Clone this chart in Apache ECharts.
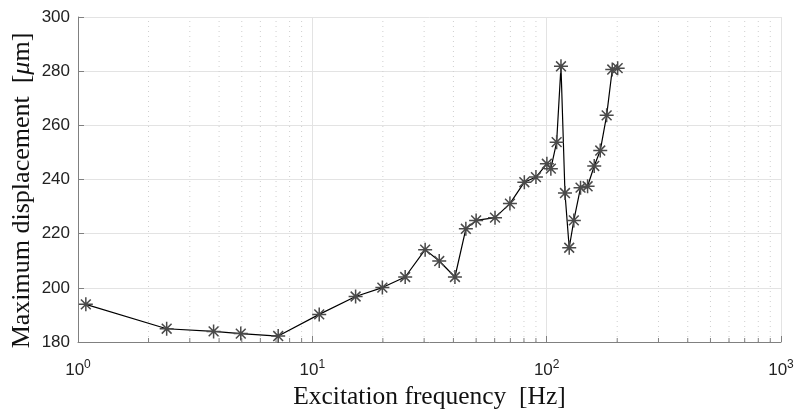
<!DOCTYPE html>
<html>
<head>
<meta charset="utf-8">
<script src="https://cdn.jsdelivr.net/npm/echarts@6/dist/echarts.min.js"></script>
<style>html,body{margin:0;padding:0;background:#fff}#c{width:798px;height:412px}</style>
</head>
<body>
<div id="c"></div>
<script>
const frequency = [1.08, 2.39, 3.79, 4.95, 7.15, 10.7, 15.3, 19.9, 24.9, 30.3, 34.8, 40.6, 45.2, 50.0, 60.2, 69.7, 80.3, 90.0, 100.2, 104.2, 110.3, 115.1, 119.7, 124.8, 130.6, 139.5, 149.5, 159.6, 169.3, 180.3, 190.5, 200.9];
const displacement = [193.9, 184.9, 183.9, 183.1, 182.2, 190.2, 196.8, 200.1, 204.0, 214.1, 209.9, 204.0, 221.8, 224.9, 225.9, 231.1, 239.0, 240.9, 245.8, 244.0, 253.8, 281.8, 235.0, 214.8, 224.9, 237.0, 237.5, 245.0, 250.7, 263.7, 280.6, 281.1];
const minorTicks = [2,3,4,5,6,7,8,9,20,30,40,50,60,70,80,90,200,300,400,500,600,700,800,900];
const yTicks = [180, 200, 220, 240, 260, 280, 300];
const xLabel = 'Excitation frequency  [Hz]';
const yLabelPre = 'Maximum displacement  [';
const yLabelMu = 'μ';
const yLabelPost = 'm]';

const chart = echarts.init(document.getElementById('c'), null, {renderer: 'canvas'});
const axisGray = '#808080';
const gridGray = '#e3e3e3';
chart.setOption({
  animation: false,
  backgroundColor: '#fff',
  grid: {left: 78, right: 17, top: 17, bottom: 70, containLabel: false, outerBoundsMode: 'none'},
  xAxis: {
    type: 'log', logBase: 10, min: 1, max: 1000,
    name: xLabel, nameLocation: 'middle', nameGap: 42,
    nameTextStyle: {fontFamily: 'Liberation Serif', fontSize: 25.5, color: '#111'},
    axisLine: {show: true, lineStyle: {color: axisGray, width: 1}},
    axisTick: {show: true, inside: true, length: 6, lineStyle: {color: axisGray}},
    splitLine: {show: true, lineStyle: {color: gridGray, width: 1}},
    minorTick: {show: false}, minorSplitLine: {show: false},
    axisLabel: {
      margin: 17,
      formatter: function (v) { return '{b|10}{s|' + Math.round(Math.log10(v)) + '}'; },
      rich: {
        b: {fontFamily: 'Liberation Sans', fontSize: 17, color: '#222'},
        s: {fontFamily: 'Liberation Sans', fontSize: 12, color: '#222', padding: [0, 0, 10, 0]}
      }
    }
  },
  yAxis: {
    type: 'value', min: 180, max: 300, interval: 20,
    name: yLabelPre + '{i|' + yLabelMu + '}' + yLabelPost, nameLocation: 'middle', nameGap: 43, nameRotate: 90,
    nameMoveOverlap: false,
    nameTextStyle: {fontFamily: 'Liberation Serif', fontSize: 26, color: '#111', padding: [0, 22, 0, 0],
      rich: {i: {fontFamily: 'Liberation Serif', fontStyle: 'italic', fontSize: 26, color: '#111'}}},
    axisLine: {show: true, lineStyle: {color: axisGray, width: 1}},
    axisTick: {show: true, inside: true, length: 6, lineStyle: {color: axisGray}},
    splitLine: {show: true, lineStyle: {color: gridGray, width: 1}},
    axisLabel: {fontFamily: 'Liberation Sans', fontSize: 17, color: '#222', margin: 8}
  },
  series: [
    {
      type: 'custom',
      silent: true,
      z: 1,
      data: minorTicks.map(v => [v, 180]),
      renderItem: function (params, api) {
        const x = api.value(0);
        const p0 = api.coord([x, 180]);
        const p1 = api.coord([x, 300]);
        return {
          type: 'group',
          children: [
            {type: 'line', shape: {x1: p0[0], y1: p0[1], x2: p1[0], y2: p1[1]},
              style: {stroke: '#cfcfcf', lineWidth: 1, lineDash: [1, 4]}},
            {type: 'line', shape: {x1: p0[0], y1: p0[1], x2: p0[0], y2: p0[1] - 4},
              style: {stroke: axisGray, lineWidth: 1}}
          ]
        };
      }
    },
    {
      type: 'line',
      z: 3,
      data: frequency.map((f, i) => [f, displacement[i]]),
      lineStyle: {color: '#000', width: 1.2},
      symbol: 'path://M5,0L5,10M0,5L10,5M1.5,1.5L8.5,8.5M1.5,8.5L8.5,1.5',
      symbolSize: 14,
      itemStyle: {color: 'rgba(0,0,0,0)', borderColor: '#4a4a4a', borderWidth: 1.5},
      showAllSymbol: true
    }
  ]
});
</script>
</body>
</html>
